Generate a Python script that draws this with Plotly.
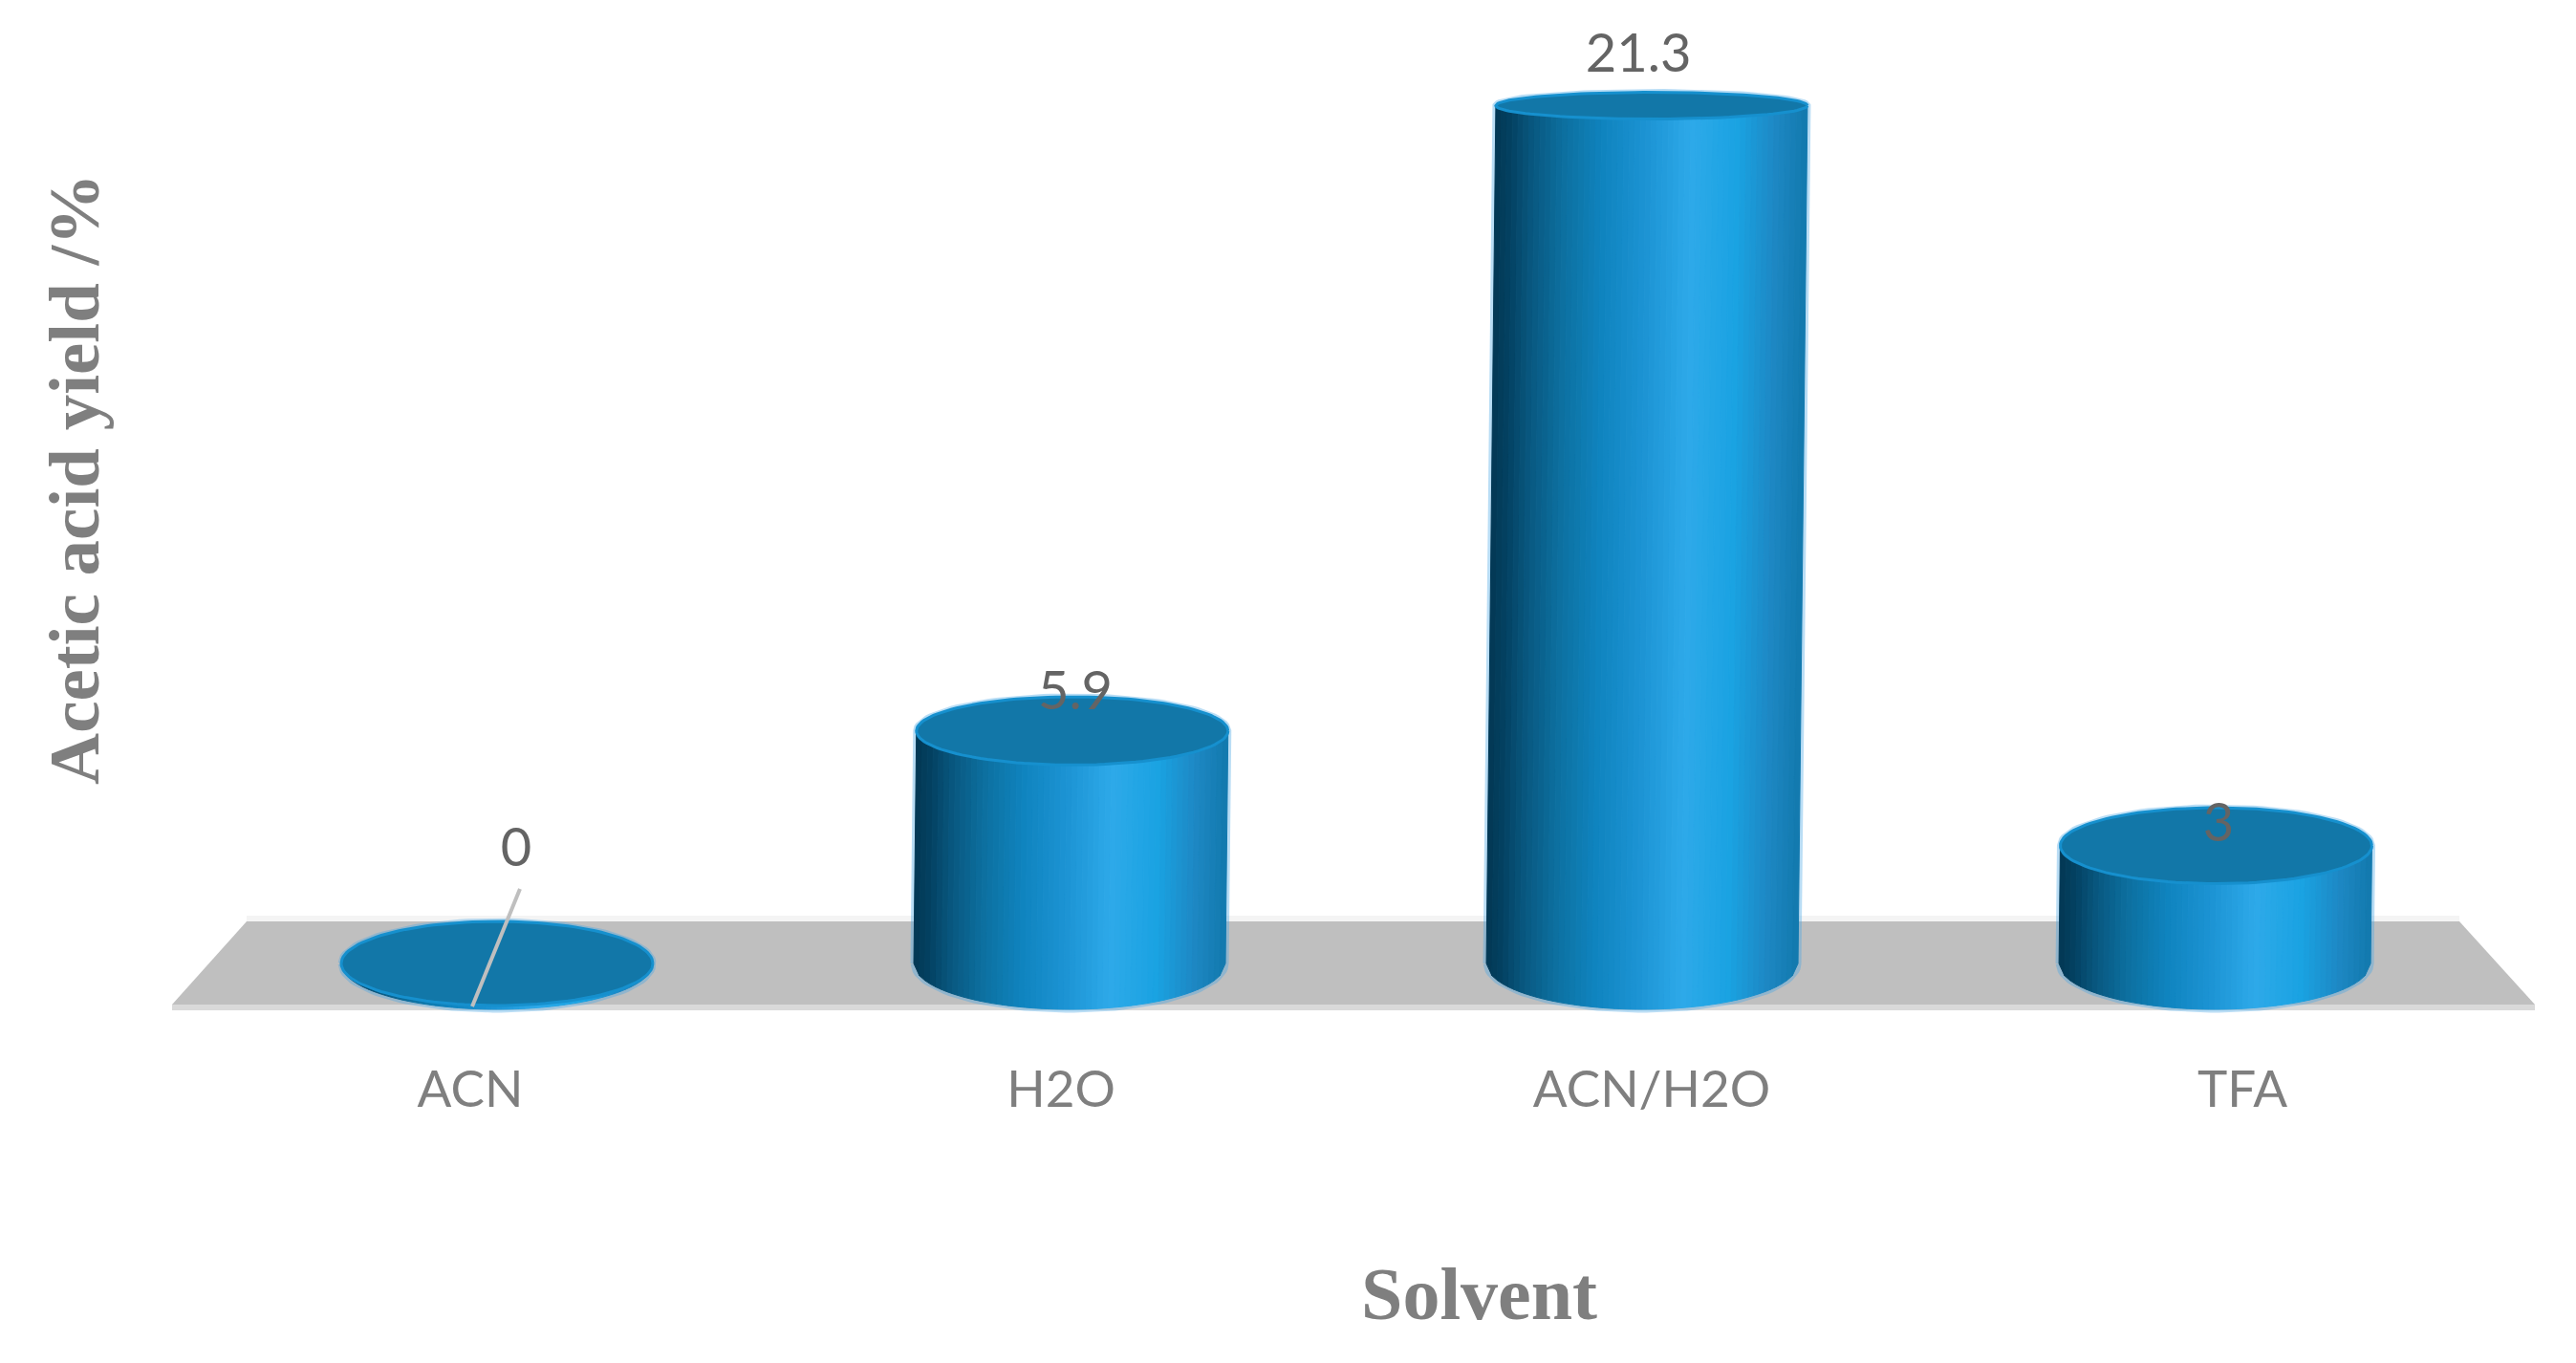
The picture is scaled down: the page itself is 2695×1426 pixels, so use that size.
import numpy as np
import plotly.graph_objects as go

categories = ["ACN", "H2O", "ACN/H2O", "TFA"]
values = [0, 5.9, 21.3, 3]
value_labels = ["0", "5.9", "21.3", "3"]
x_title = "Solvent"
y_title = "Acetic acid yield /%"

W, H = 2695, 1426
ML, MB = 140, 328
PX_X, PX_Y = 618.0, 42.0
X0_PX, Y0_PX = 492.0, 1008.0
PLOT_H = H - MB
xr = [(ML - X0_PX) / PX_X, (W - X0_PX) / PX_X]
yr = [(Y0_PX - PLOT_H) / PX_Y, Y0_PX / PX_Y]

# pseudo-3D projection helpers (perspective of the value axis)
def cx(i): return 0.0453 + 0.9693 * i
def top_y(v): return v * (40.9 + 0.058 * v) / PX_Y
def top_ry(v): return (44 - 1.41 * v) / PX_Y
def lean(v): return 0.00075 * v
RX = 163 / PX_X
BASE_RY = 48 / PX_Y

stops = [0, .05, .12, .22, .35, .5, .63, .78, .9, 1]
cols = [(3, 56, 84), (4, 66, 98), (9, 88, 128), (13, 112, 160), (16, 133, 192),
        (30, 150, 214), (46, 170, 234), (26, 163, 226), (30, 136, 196), (18, 121, 174)]
N = 56

fig = go.Figure()

def poly(x, y, fill=None, line=None, width=0):
    fig.add_trace(go.Scatter(x=x, y=y, mode="lines", fill="toself" if fill else None,
                             fillcolor=fill, line=dict(color=line or "rgba(0,0,0,0)", width=width),
                             hoverinfo="skip", showlegend=False))

# floor
fl, fr = (180 - X0_PX) / PX_X, (2652 - X0_PX) / PX_X
tl, tr = (258 - X0_PX) / PX_X, (2573 - X0_PX) / PX_X
ft, fb, fs = 44 / PX_Y, -43 / PX_Y, -49 / PX_Y
poly([tl, tr, tr, tl, tl], [ft + .14, ft + .14, ft, ft, ft + .14], fill="#F4F4F4")
poly([fl, fr, fr, fl, fl], [fb, fb, fs, fs, fb], fill="#D9D9D9")
poly([fl, tl, tr, fr, fl], [fb, ft, ft, fb, fb], fill="#BFBFBF")

# halos around the cylinders
t = np.linspace(0, 2 * np.pi, 121)
for i, v in enumerate(values):
    a = np.linspace(np.pi, 2 * np.pi, 60)
    xb = cx(i) + RX * np.cos(a)
    yb = BASE_RY * np.sin(a)
    b = np.linspace(0, np.pi, 60)
    xt = cx(i) + lean(v) + RX * np.cos(b)
    yt = top_y(v) + top_ry(v) * np.sin(b)
    poly(np.r_[xb, xt, xb[0]], np.r_[yb, yt, yb[0]], line="rgba(70,165,230,0.38)", width=7)

# cylinder bodies: one trace per gradient strip
edges = np.linspace(-1, 1, N + 1)
for s in range(N):
    f = (s + .5) / N
    rgb = [int(np.interp(f, stops, [c[k] for c in cols])) for k in range(3)]
    colour = f"rgb({rgb[0]},{rgb[1]},{rgb[2]})"
    xs, ys = [], []
    for i, v in enumerate(values):
        e0, e1 = edges[s], edges[s + 1]
        b0 = -BASE_RY * np.sqrt(max(0, 1 - e0 * e0))
        b1 = -BASE_RY * np.sqrt(max(0, 1 - e1 * e1))
        t0 = top_y(v) - top_ry(v) * np.sqrt(max(0, 1 - e0 * e0))
        t1 = top_y(v) - top_ry(v) * np.sqrt(max(0, 1 - e1 * e1))
        xs += [cx(i) + RX * e0, cx(i) + RX * e1, cx(i) + lean(v) + RX * e1, cx(i) + lean(v) + RX * e0, cx(i) + RX * e0, None]
        ys += [b0, b1, t1, t0, b0, None]
    poly(xs, ys, fill=colour, line=colour, width=1)

# cylinder tops
for i, v in enumerate(values):
    poly(cx(i) + lean(v) + RX * np.cos(t), top_y(v) + top_ry(v) * np.sin(t),
         fill="#1277A8", line="#1690CE", width=3)

# leader line of the zero label
fig.add_trace(go.Scatter(x=[(494 - X0_PX) / PX_X, (544 - X0_PX) / PX_X], y=[(Y0_PX - 1053) / PX_Y, (Y0_PX - 930) / PX_Y],
                         mode="lines", line=dict(color="#BFBFBF", width=4), hoverinfo="skip", showlegend=False))

# data labels
label_dx = [20 / PX_X, 6 / PX_X, -4 / PX_X, 4 / PX_X]
label_dy = [116 / PX_Y, 37 / PX_Y, 50 / PX_Y, 19 / PX_Y]
fig.add_trace(go.Scatter(
    x=[cx(i) + label_dx[i] for i in range(4)],
    y=[top_y(v) + label_dy[i] for i, v in enumerate(values)],
    mode="text", text=value_labels, textposition="middle center",
    textfont=dict(family="Lato", size=56, color="#646464"),
    hoverinfo="skip", showlegend=False))

title_font = dict(family="Liberation Serif", color="#7F7F7F")
fig.update_layout(
    width=W, height=H, autosize=False, paper_bgcolor="white", plot_bgcolor="white",
    margin=dict(l=ML, r=0, t=0, b=MB, pad=0), showlegend=False,
    xaxis=dict(range=xr, tickvals=[0, 1, 2, 3], ticktext=categories, showgrid=False, zeroline=False,
               showline=False, ticks="", ticklabelstandoff=6, automargin=False,
               tickfont=dict(family="Lato", size=53, color="#7F7F7F")),
    yaxis=dict(range=yr, showgrid=False, zeroline=False, showline=False, showticklabels=False, ticks="",
               automargin=False),
    annotations=[
        dict(text=f"<b>{x_title}</b>", xref="paper", yref="paper", x=(1547 - ML) / (W - ML),
             y=(PLOT_H - 1353) / PLOT_H, xanchor="center", yanchor="middle", showarrow=False,
             font=dict(size=78, **title_font)),
        dict(text=f"<b>{y_title}</b>", xref="paper", yref="paper", x=(77 - ML) / (W - ML),
             y=(PLOT_H - 502) / PLOT_H, xanchor="center", yanchor="middle", showarrow=False, textangle=-90,
             font=dict(size=75, **title_font)),
    ],
)
fig.write_html("out.html", post_script="document.body.style.margin='0';", config={"displayModeBar": False})
